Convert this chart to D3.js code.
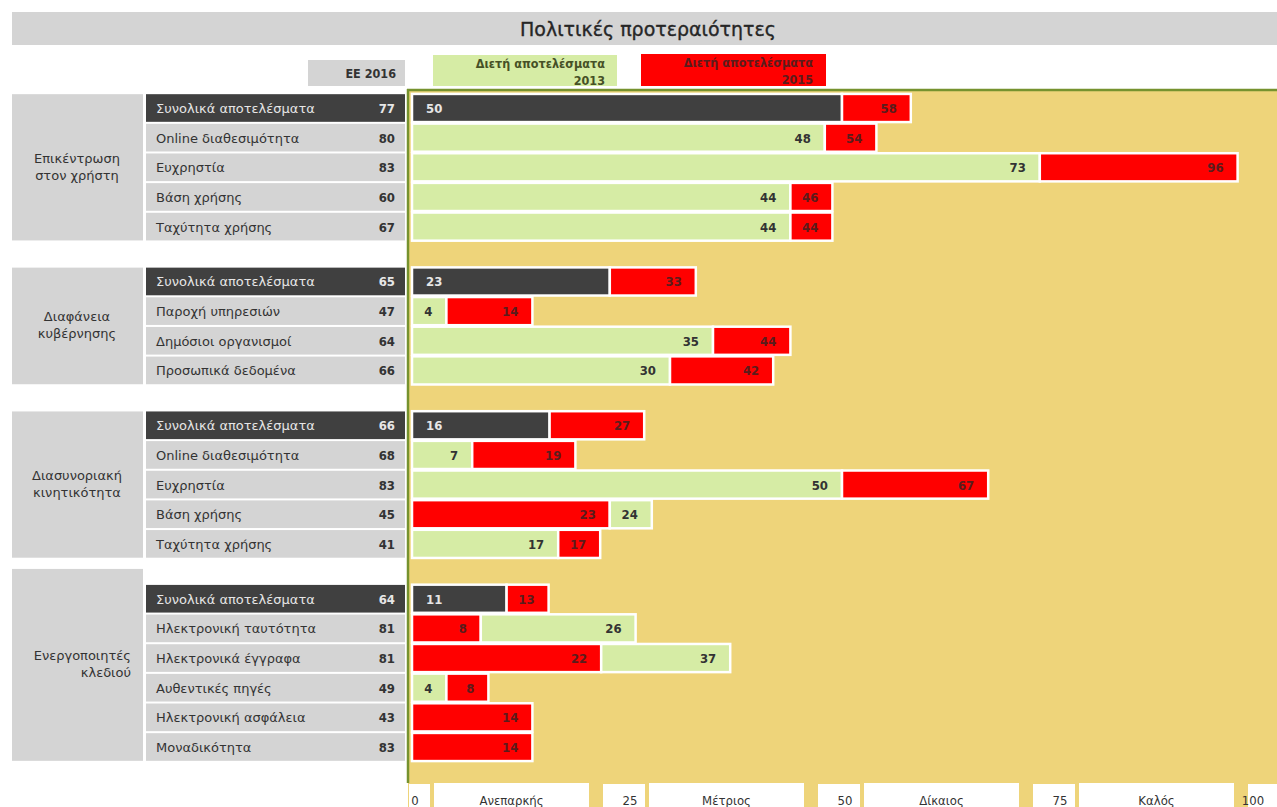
<!DOCTYPE html>
<html>
<head>
<meta charset="utf-8">
<script src="https://cdn.jsdelivr.net/npm/d3@7"></script>
<style>
  html, body { margin: 0; padding: 0; background: #fff; }
  svg { display: block; }
</style>
</head>
<body>
<svg id="chart" width="1277" height="807"></svg>
<script>
// ---- data ----
const groups = ["Επικέντρωση στον χρήστη", "Διαφάνεια κυβέρνησης", "Διασυνοριακή κινητικότητα", "Ενεργοποιητές κλεδιού"];
const groupLines = [["Επικέντρωση", "στον χρήστη"], ["Διαφάνεια", "κυβέρνησης"], ["Διασυνοριακή", "κινητικότητα"], ["Ενεργοποιητές", "κλεδιού"]];
const rowGroup = [0,0,0,0,0, 1,1,1,1, 2,2,2,2,2, 3,3,3,3,3,3];
const rowLabels = [
  "Συνολικά αποτελέσματα", "Online διαθεσιμότητα", "Ευχρηστία", "Βάση χρήσης", "Ταχύτητα χρήσης",
  "Συνολικά αποτελέσματα", "Παροχή υπηρεσιών", "Δημόσιοι οργανισμοί", "Προσωπικά δεδομένα",
  "Συνολικά αποτελέσματα", "Online διαθεσιμότητα", "Ευχρηστία", "Βάση χρήσης", "Ταχύτητα χρήσης",
  "Συνολικά αποτελέσματα", "Ηλεκτρονική ταυτότητα", "Ηλεκτρονικά έγγραφα", "Αυθεντικές πηγές", "Ηλεκτρονική ασφάλεια", "Μοναδικότητα"
];
const eu2016 = [77, 80, 83, 60, 67, 65, 47, 64, 66, 66, 68, 83, 45, 41, 64, 81, 81, 49, 43, 83];
const country2013 = [50, 48, 73, 44, 44, 23, 4, 35, 30, 16, 7, 50, 24, 17, 11, 26, 37, 4, null, null];
const country2015 = [58, 54, 96, 46, 44, 33, 14, 44, 42, 27, 19, 67, 23, 17, 13, 8, 22, 8, 14, 14];
const totalRows = [0, 5, 9, 14];
const axisTicks = [0, 25, 50, 75, 100];
const ratingLabels = ["Ανεπαρκής", "Μέτριος", "Δίκαιος", "Καλός"];
const legendLabels = { eu: "ΕΕ 2016", y2013: ["Διετή αποτελέσματα", "2013"], y2015: ["Διετή αποτελέσματα", "2015"] };
const title = "Πολιτικές προτεραιότητες";

// ---- styling ----
const W = 1277, H = 807;
const C = {
  panel: "#d4d4d4", dark: "#404040", green: "#d6eca5", red: "#ff0000",
  plot: "#eed47a", border: "#76922e", text: "#333333", redText: "#5a1c1c",
  greenText: "#465026", light: "#e6e6e6"
};
const FONT = "'DejaVu Sans', Verdana, sans-serif";
const FONT_C = "'DejaVu Sans Condensed', 'DejaVu Sans', sans-serif";

const svg = d3.select("#chart");

// scales
const x = d3.scaleLinear().domain([0, 100]).range([410, 1270]);
const GAP = 0.85; // extra slot between groups
const rowIndex = rowLabels.map((d, i) => i + rowGroup[i] * GAP);
const y = d3.scaleLinear().domain([0, d3.max(rowIndex)]).range([108, 747]);
const step = y(1) - y(0);

// ---- title ----
svg.append("rect").attr("x", 12).attr("y", 12).attr("width", W - 12).attr("height", 33).attr("fill", C.panel);
svg.append("text").attr("x", 648).attr("y", 36).attr("text-anchor", "middle")
  .attr("font-family", FONT).attr("font-size", 19).attr("fill", "#262626")
  .attr("stroke", "#262626").attr("stroke-width", 0.35).text(title);

// ---- legend ----
const lg = svg.append("g").attr("font-family", FONT_C).attr("font-size", 12.5).attr("font-weight", "bold");
lg.append("rect").attr("x", 308).attr("y", 60).attr("width", 97).attr("height", 26).attr("fill", C.panel);
lg.append("text").attr("x", 396).attr("y", 78).attr("text-anchor", "end").attr("fill", C.text).text(legendLabels.eu);
lg.append("rect").attr("x", 433).attr("y", 55).attr("width", 184).attr("height", 31).attr("fill", C.green);
legendLabels.y2013.forEach((t, i) => lg.append("text").attr("x", 605).attr("y", 68 + i * 17)
  .attr("text-anchor", "end").attr("fill", C.greenText).text(t));
lg.append("rect").attr("x", 641).attr("y", 54).attr("width", 185).attr("height", 32).attr("fill", C.red);
legendLabels.y2015.forEach((t, i) => lg.append("text").attr("x", 813).attr("y", 67 + i * 17)
  .attr("text-anchor", "end").attr("fill", C.redText).text(t));

// ---- plot background ----
svg.append("rect").attr("x", 408).attr("y", 89).attr("width", W - 408).attr("height", H - 89).attr("fill", C.plot);
svg.append("line").attr("x1", 407).attr("x2", W).attr("y1", 90).attr("y2", 90)
  .attr("stroke", C.border).attr("stroke-width", 2.5);
svg.append("line").attr("x1", 408).attr("x2", 408).attr("y1", 89).attr("y2", 783)
  .attr("stroke", C.border).attr("stroke-width", 2.5);

// ---- group boxes ----
groups.forEach((g, gi) => {
  const idx = rowIndex.filter((d, i) => rowGroup[i] === gi);
  const top = y(d3.min(idx)) - step / 2 - (gi === 3 ? 16 : 0) + 1;
  const bot = y(d3.max(idx)) + step / 2 - 1;
  svg.append("rect").attr("x", 12).attr("y", top).attr("width", 131).attr("height", bot - top).attr("fill", C.panel);
  const lines = groupLines[gi];
  const cy = (top + bot) / 2;
  const alignRight = gi === 3;
  lines.forEach((t, li) => {
    svg.append("text")
      .attr("x", alignRight ? 131 : 77)
      .attr("y", cy + (li - (lines.length - 1) / 2) * 17 + 4)
      .attr("text-anchor", alignRight ? "end" : "middle")
      .attr("font-family", FONT).attr("font-size", 13).attr("fill", C.text).text(t);
  });
});

// ---- row label boxes ----
const rows = rowLabels.map((label, i) => ({
  label, eu: eu2016[i], a: country2013[i], b: country2015[i],
  total: totalRows.includes(i), yc: y(rowIndex[i])
}));

const rowG = svg.append("g").selectAll("g").data(rows).join("g");
rowG.append("rect")
  .attr("x", 146).attr("width", 259)
  .attr("y", d => d.yc - (step - 2) / 2).attr("height", step - 2)
  .attr("fill", d => d.total ? C.dark : C.panel);
rowG.append("text")
  .attr("x", 156).attr("y", d => d.yc + 5)
  .attr("font-family", FONT).attr("font-size", 13)
  .attr("fill", d => d.total ? C.light : C.text).text(d => d.label);
rowG.append("text")
  .attr("x", 395).attr("y", d => d.yc + 5).attr("text-anchor", "end")
  .attr("font-family", FONT_C).attr("font-size", 13).attr("font-weight", "bold")
  .attr("fill", d => d.total ? C.light : C.text).text(d => d.eu);

// ---- bars: smaller score first, the other extends to its own value ----
const MIN_W = 42, BAR_H = step - 1.5;
const segs = [];
rows.forEach(r => {
  const parts = [
    { v: r.a, fill: r.total ? C.dark : C.green, tc: r.total ? C.light : C.text, dark: r.total },
    { v: r.b, fill: C.red, tc: C.redText, dark: false }
  ].filter(p => p.v != null).sort((p, q) => p.v - q.v);
  let start = x(0);
  parts.forEach((p, k) => {
    const end = k === 0 ? x(p.v) : Math.max(x(p.v), start + MIN_W);
    segs.push({ ...p, x0: start, x1: end, yc: r.yc });
    start = end;
  });
});

const barG = svg.append("g").selectAll("g").data(segs).join("g");
barG.append("rect")
  .attr("x", d => d.x0 + 2).attr("width", d => d.x1 - d.x0)
  .attr("y", d => d.yc - BAR_H / 2).attr("height", BAR_H)
  .attr("fill", d => d.fill).attr("stroke", "#ffffff").attr("stroke-width", 2.5);
barG.append("text")
  .attr("x", d => d.dark ? d.x0 + 16 : d.x1 - 12)
  .attr("text-anchor", d => d.dark ? "start" : "end")
  .attr("y", d => d.yc + 5)
  .attr("font-family", FONT_C).attr("font-size", 13).attr("font-weight", "bold")
  .attr("fill", d => d.tc).text(d => d.v);

// ---- rating axis along the bottom ----
const axG = svg.append("g").attr("font-family", FONT_C).attr("font-size", 13).attr("fill", C.text);
axisTicks.forEach(t => {
  const bx0 = Math.max(x(t) - 22, 409), bx1 = Math.min(x(t) + 20, W);
  axG.append("rect").attr("x", bx0).attr("y", 784).attr("width", bx1 - bx0).attr("height", H - 784).attr("fill", "#fff");
  axG.append("text").attr("x", Math.min(x(t) + 5, W - 24)).attr("y", 805).attr("text-anchor", "middle").text(t);
});
ratingLabels.forEach((lab, i) => {
  const bx0 = x(axisTicks[i]) + 24, bx1 = x(axisTicks[i + 1]) - 36;
  axG.append("rect").attr("x", bx0).attr("y", 783).attr("width", bx1 - bx0).attr("height", H - 783).attr("fill", "#fff");
  axG.append("text").attr("x", (bx0 + bx1) / 2).attr("y", 805).attr("text-anchor", "middle").text(lab);
});
</script>
</body>
</html>
